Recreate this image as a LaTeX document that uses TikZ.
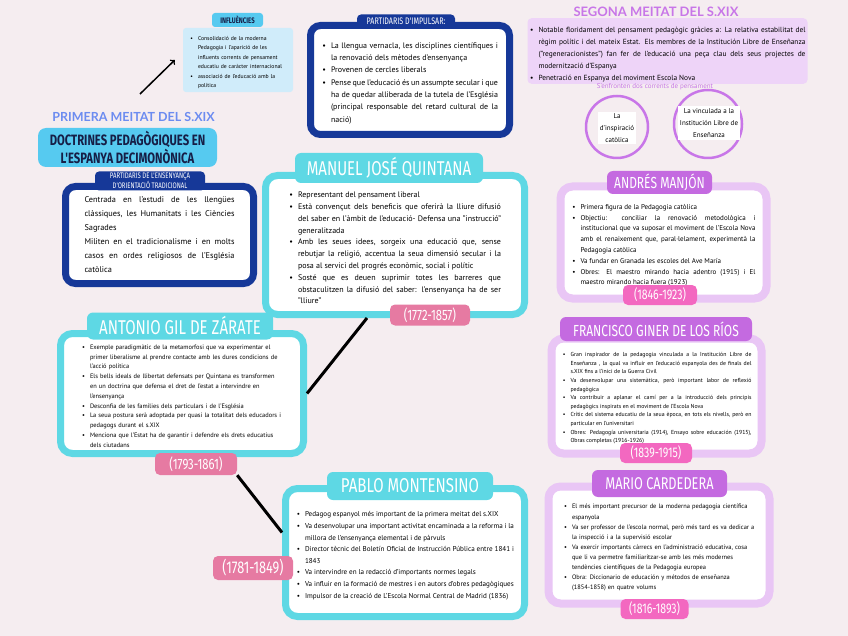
\documentclass[tikz,border=0pt]{standalone}
\usepackage{fontspec}
\setmainfont{PT Sans}
\newfontfamily\titlefont[FakeStretch=0.75]{Fira Sans}
\newfontfamily\headfont{Lato}
\usepackage{enumitem}
\setlist[itemize]{nosep, leftmargin=9pt, label=\textbullet}

\definecolor{bgpink}{RGB}{245,237,240}
\definecolor{cyanc}{RGB}{94,216,228}
\definecolor{skyc}{RGB}{86,202,240}
\definecolor{navyc}{RGB}{22,56,152}
\definecolor{inkc}{RGB}{22,30,70}
\definecolor{datec}{RGB}{230,122,162}
\definecolor{lilac}{RGB}{233,198,245}
\definecolor{violetc}{RGB}{196,106,224}
\definecolor{magc}{RGB}{243,104,192}
\definecolor{paleblue}{RGB}{208,236,250}
\definecolor{palelilac}{RGB}{238,212,248}
\definecolor{blueh}{RGB}{108,140,240}
\definecolor{purpleh}{RGB}{200,118,232}

\begin{document}
\begin{tikzpicture}[
    x=1pt, y=-1pt,
    every node/.style={inner sep=0pt, execute at begin node={\hyphenpenalty=10000\tolerance=9999\emergencystretch=2em}},
    cyanbox/.style={draw=cyanc, line width=7pt, fill=white, rounded corners=12pt, align=justify},
    lilacbox/.style={draw=lilac, line width=8pt, fill=white, rounded corners=12pt, align=justify},
    navybox/.style={draw=navyc, line width=7pt, fill=white, rounded corners=10pt, align=justify},
    cyantitle/.style={fill=cyanc, text=white, rounded corners=6pt, font=\titlefont\fontsize{20}{20}\selectfont},
    violettitle/.style={fill=violetc, text=white, rounded corners=6pt},
    navytab/.style={fill=navyc, text=white, rounded corners=4pt, align=center},
    cyandate/.style={fill=datec, text=white, rounded corners=5pt, font=\titlefont\fontsize{15}{15}\selectfont},
    magdate/.style={fill=magc, text=white, rounded corners=5pt, font=\titlefont\fontsize{14}{14}\selectfont},
    link/.style={line width=3pt, black},
    ring/.style={circle, draw=purpleh, line width=2.5pt}
    ]
    \useasboundingbox (0,0) rectangle (848,636);
    \fill[bgpink] (0,0) rectangle (848,636);

    % Influencies
    \node (infl_label) [fill=skyc, text=inkc, rounded corners=3pt, minimum width=51, minimum height=14, font=\titlefont\bfseries\fontsize{8}{8}\selectfont] at (237.5,20) {INFLUÈNCIES};
    \node (infl_text) [fill=paleblue, rounded corners=3pt, text width=104, inner sep=3pt, align=left, font=\fontsize{5.7}{9.5}\selectfont] at (238,60) {\begin{itemize}[leftmargin=12pt]
        \item Consolidació de la moderna Pedagogia i l'aparició de les influents corrents de pensament educatiu de caràcter internacional
        \item associació de l'educació amb la política
      \end{itemize}};
    \coordinate (arrow_tail) at (140,94);
    \draw[->, line width=1.5pt] (arrow_tail) -- ([xshift=-8pt]infl_text.west);

    % Primera meitat
    \node (first_half) [text=blueh, font=\headfont\bfseries\fontsize{12.5}{12.5}\selectfont] at (133.5,117) {PRIMERA MEITAT DEL S.XIX};
    \node (doctrines) [fill=skyc, text=inkc, rounded corners=8pt, minimum width=179, minimum height=39, align=center, font=\titlefont\bfseries\fontsize{15}{16}\selectfont] at (127.5,147.5) {DOCTRINES PEDAGÒGIQUES EN\\L'ESPANYA DECIMONÒNICA};

    % Ensenyança tradicional
    \node (trad_box) [navybox, minimum width=188, minimum height=97, text width=150, font=\fontsize{8.3}{14}\selectfont] at (159.5,235) {Centrada en l'estudi de les llengües clàssiques, les Humanitats i les Ciències Sagrades\par Militen en el tradicionalisme i en molts casos en ordes religiosos de l'Església catòlica};
    \node (trad_tab) [navytab, minimum width=110, minimum height=19, font=\titlefont\fontsize{8}{8}\selectfont] at (150,181) {PARTIDARIS DE L'ENSENYANÇA\\D'ORIENTACIÓ TRADICIONAL};

    % Partidaris d'impulsar
    \node (reform_box) [navybox, minimum width=199, minimum height=109, text width=176, font=\fontsize{8}{12.3}\selectfont] at (410,80) {\begin{itemize}
        \item La llengua vernacla, les disciplines científiques i la renovació dels mètodes d'ensenyança
        \item Provenen de cercles liberals
        \item Pense que l'educació és un assumpte secular i que ha de quedar alliberada de la tutela de l'Església (principal responsable del retard cultural de la nació)
      \end{itemize}};
    \node (reform_tab) [navytab, minimum width=98, minimum height=14, font=\titlefont\fontsize{9.5}{9.5}\selectfont] at (406,21.5) {PARTIDARIS D'IMPULSAR:};

    % Segona meitat
    \node (second_text) [fill=palelilac, rounded corners=4pt, text width=276, inner sep=2pt, align=justify, font=\fontsize{7.4}{12}\selectfont] at (667.5,51) {\begin{itemize}
        \item Notable floridament del pensament pedagògic gràcies a: La relativa estabilitat del règim polític i del mateix Estat. Els membres de la Institución Libre de Enseñanza ("regeneracionistes") fan fer de l'educació una peça clau dels seus projectes de modernització d'Espanya
        \item Penetració en Espanya del moviment Escola Nova
      \end{itemize}};
    \node (second_half) [text=purpleh, font=\headfont\bfseries\fontsize{13}{13}\selectfont] at (656,12) {SEGONA MEITAT DEL S.XIX};
    \node (two_currents) [text=purpleh, font=\fontsize{7}{7}\selectfont] at (655,87) {S'enfronten dos corrents de pensament};
    \node (catholic_ring) [ring, minimum size=62] at (617,127) {};
    \node (catholic_text) [fill=white, inner sep=2pt, align=center, font=\fontsize{7}{12}\selectfont] at (617,128) {La\\d'inspiració\\catòlica};
    \node (ile_ring) [ring, minimum size=68] at (708,124) {};
    \node (ile_text) [fill=white, inner sep=2pt, align=center, font=\fontsize{7}{12}\selectfont] at (709,123) {La vinculada a la\\Institución Libre de\\Enseñanza};

    % Manuel Jose Quintana
    \node (quintana_box) [cyanbox, minimum width=259, minimum height=139, text width=212, font=\fontsize{8}{11.8}\selectfont] at (395,245) {\begin{itemize}
        \item Representant del pensament liberal
        \item Està convençut dels beneficis que oferirà la lliure difusió del saber en l'àmbit de l'educació- Defensa una "instrucció" generalitzada
        \item Amb les seues idees, sorgeix una educació que, sense rebutjar la religió, accentua la seua dimensió secular i la posa al servici del progrés econòmic, social i polític
        \item Sosté que es deuen suprimir totes les barreres que obstaculitzen la difusió del saber: l'ensenyança ha de ser "lliure"
      \end{itemize}};
    \node (quintana_title) [cyantitle, minimum width=188, minimum height=30] at (389,168) {MANUEL JOSÉ QUINTANA};
    \node (quintana_date) [cyandate, minimum width=80, minimum height=21] at (430,315) {(1772-1857)};

    % Antonio Gil de Zarate
    \node (gil_box) [cyanbox, align=left, minimum width=243, minimum height=120, text width=202, font=\fontsize{6.4}{9.8}\selectfont] at (182,393.5) {\begin{itemize}
        \item Exemple paradigmàtic de la metamorfosi que va experimentar el primer liberalisme al prendre contacte amb les dures condicions de l'acció política
        \item Els bells ideals de llibertat defensats per Quintana es transformen en un doctrina que defensa el dret de l'estat a intervindre en l'ensenyança
        \item Desconfia de les famílies dels particulars i de l'Església
        \item La seua postura serà adoptada per quasi la totalitat dels educadors i pedagogs durant el s.XIX
        \item Menciona que l'Estat ha de garantir i defendre els drets educatius dels ciutadans
      \end{itemize}};
    \node (gil_title) [cyantitle, minimum width=186, minimum height=27] at (180,326) {ANTONIO GIL DE ZÁRATE};
    \node (gil_date) [cyandate, minimum width=82, minimum height=22] at (196,464) {(1793-1861)};

    % Pablo Montensino
    \node (pablo_box) [cyanbox, minimum width=239, minimum height=128, text width=218, font=\fontsize{7.1}{11.6}\selectfont] at (405,552.5) {\begin{itemize}
        \item Pedagog espanyol més important de la primera meitat del s.XIX
        \item Va desenvolupar una important activitat encaminada a la reforma i la millora de l'ensenyança elemental i de pàrvuls
        \item Director tècnic del Boletín Oficial de Instrucción Pública entre 1841 i 1843
        \item Va intervindre en la redacció d'importants normes legals
        \item Va influir en la formació de mestres i en autors d'obres pedagògiques
        \item Impulsor de la creació de L'Escola Normal Central de Madrid (1836)
      \end{itemize}};
    \node (pablo_title) [cyantitle, minimum width=166, minimum height=28] at (410,486) {PABLO MONTENSINO};
    \node (pablo_date) [cyandate, minimum width=80, minimum height=24, font=\titlefont\fontsize{17}{17}\selectfont] at (253,568) {(1781-1849)};

    \draw[link] ([xshift=-28pt]quintana_box.south) -- (gil_box.east);
    \draw[link] (gil_date.south east) -- ([yshift=20pt]pablo_box.west);

    % Andres Manjon
    \node (manjon_box) [lilacbox, minimum width=206, minimum height=112, text width=184, font=\fontsize{7}{10.8}\selectfont] at (663.5,242.5) {\begin{itemize}
        \item Primera figura de la Pedagogia catòlica
        \item Objectiu: conciliar la renovació metodològica i institucional que va suposar el moviment de l'Escola Nova amb el renaixement que, paral·lelament, experimentà la Pedagogia catòlica
        \item Va fundar en Granada les escoles del Ave María
        \item Obres: El maestro mirando hacia adentro (1915) i El maestro mirando hacia fuera (1923)
      \end{itemize}};
    \node (manjon_title) [violettitle, minimum width=105, minimum height=23, font=\titlefont\fontsize{16}{16}\selectfont] at (659.5,182.5) {ANDRÉS MANJÓN};
    \node (manjon_date) [magdate, minimum width=74, minimum height=20] at (660,295) {(1846-1923)};

    % Francisco Giner de los Rios
    \node (giner_box) [lilacbox, minimum width=210, minimum height=115, text width=190, font=\fontsize{5.8}{8.6}\selectfont] at (656.5,396) {\begin{itemize}
        \item Gran inspirador de la pedagogia vinculada a la Institución Libre de Enseñanza , la qual va influir en l'educació espanyola des de finals del s.XIX fins a l'inici de la Guerra Civil
        \item Va desenvolupar una sistemàtica, però important labor de reflexió pedagògica
        \item Va contribuir a aplanar el camí per a la introducció dels principis pedagògics inspirats en el moviment de l'Escola Nova
        \item Crític del sistema educatiu de la seua època, en tots els nivells, però en particular en l'universitari
        \item Obres: Pedagogía universitaria (1914), Ensayo sobre educación (1915), Obras completas (1916-1926)
      \end{itemize}};
    \node (giner_title) [violettitle, minimum width=192, minimum height=24, font=\titlefont\fontsize{16}{16}\selectfont] at (656,329) {FRANCISCO GINER DE LOS RÍOS};
    \node (giner_date) [magdate, minimum width=72, minimum height=20] at (656,453) {(1839-1915)};

    % Mario Cardedera
    \node (mario_box) [lilacbox, align=left, minimum width=221, minimum height=117, text width=192, font=\fontsize{6.4}{10.1}\selectfont] at (659,545) {\begin{itemize}
        \item El més important precursor de la moderna pedagogia científica espanyola
        \item Va ser professor de l'escola normal, però més tard es va dedicar a la inspecció i a la supervisió escolar
        \item Va exercir importants càrrecs en l'administració educativa, cosa que li va permetre familiaritzar-se amb les més modernes tendències científiques de la Pedagogia europea
        \item Obra: Diccionario de educación y métodos de enseñanza (1854-1858) en quatre volums
      \end{itemize}};
    \node (mario_title) [violettitle, minimum width=135, minimum height=27, font=\titlefont\fontsize{17}{17}\selectfont] at (659.5,483.5) {MARIO CARDEDERA};
    \node (mario_date) [magdate, minimum width=68, minimum height=20] at (654.5,609) {(1816-1893)};
\end{tikzpicture}
\end{document}
